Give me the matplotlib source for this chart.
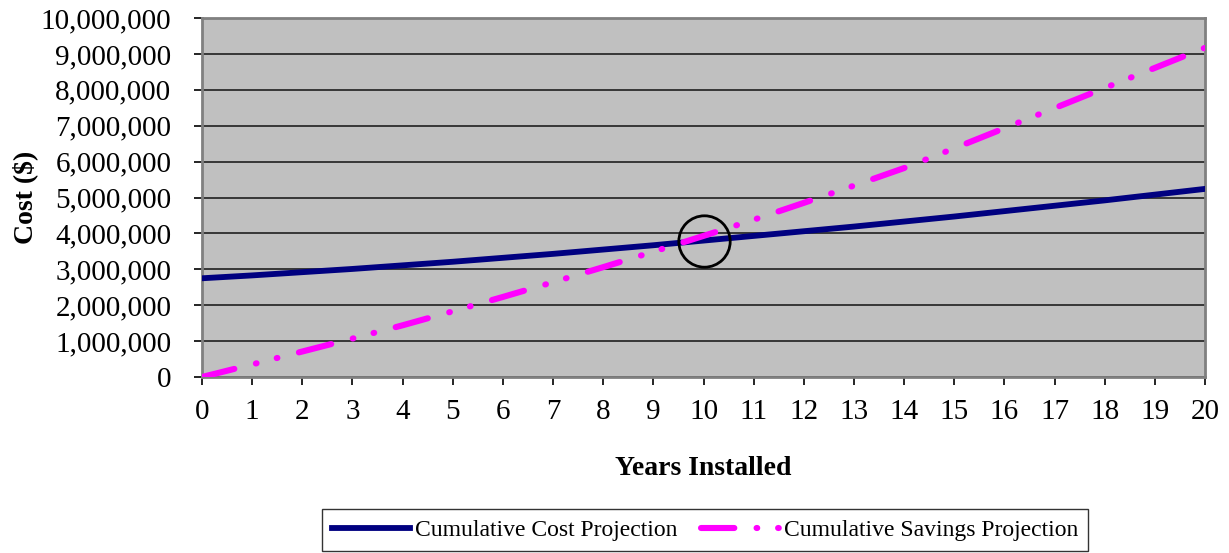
import matplotlib
matplotlib.use('Agg')
import matplotlib.pyplot as plt
from matplotlib.ticker import FuncFormatter

plt.rcParams['font.family'] = 'Liberation Serif'
plt.rcParams['lines.scale_dashes'] = False

years = list(range(21))
cost = [2750000, 2830000, 2920000, 3010000, 3110000, 3210000, 3320000, 3430000, 3550000,
        3670000, 3800000, 3930000, 4060000, 4190000, 4330000, 4470000, 4620000, 4770000,
        4920000, 5080000, 5240000]
savings = [0, 350000, 710000, 1070000, 1440000, 1830000, 2230000, 2640000, 3060000,
           3490000, 3930000, 4380000, 4850000, 5330000, 5820000, 6370000, 6930000, 7490000,
           8050000, 8610000, 9170000]
breakeven = (10, 3780000)

fig = plt.figure(figsize=(12.29, 5.53), dpi=100)
ax = fig.add_axes([202 / 1229, 1 - 377 / 553, (1205 - 202) / 1229, (377 - 18) / 553])
ax.set_facecolor('#C0C0C0')

ax.plot(years, cost, color='#000080', lw=4.2, label='Cumulative Cost Projection', zorder=3)
sav, = ax.plot(years, savings, color='#FF00FF', lw=4.4, dash_capstyle='round',
               label='Cumulative Savings Projection', zorder=3)
sav.set_dashes((24, 16, 0.5, 15, 0.5, 16))

# circle around the break-even point
ax.plot(*breakeven, marker='o', ms=37, mfc='none', mec='black', mew=2, zorder=4)

ax.set_xlim(0, 20)
ax.set_ylim(0, 10000000)
ax.set_xticks(years)
ax.set_yticks(range(0, 10000001, 1000000))
ax.yaxis.set_major_formatter(FuncFormatter(lambda v, p: f'{int(v):,}'))
ax.grid(axis='y', color='#202020', lw=1.2)
ax.set_axisbelow(True)
for s in ax.spines.values():
    s.set_color('#808080')
    s.set_linewidth(2)
ax.tick_params(direction='out', length=6, width=1.2, color='black', labelsize=21)
ax.tick_params(axis='y', pad=16)
ax.tick_params(axis='x', pad=10)

ax.set_xlabel('Years Installed', fontsize=20, fontweight='bold', labelpad=22)
ax.set_ylabel('Cost ($)', fontsize=20, fontweight='bold', labelpad=2)

leg = fig.legend(loc='center', bbox_to_anchor=(705 / 1229, 1 - 530 / 553), ncol=2,
                 fontsize=17, frameon=True, fancybox=False, handlelength=3.3,
                 columnspacing=1.0, handletextpad=0.2, borderpad=0.45)
leg.get_frame().set_edgecolor('black')
leg.get_frame().set_linewidth(1)

fig.savefig('out.png', dpi=100)
